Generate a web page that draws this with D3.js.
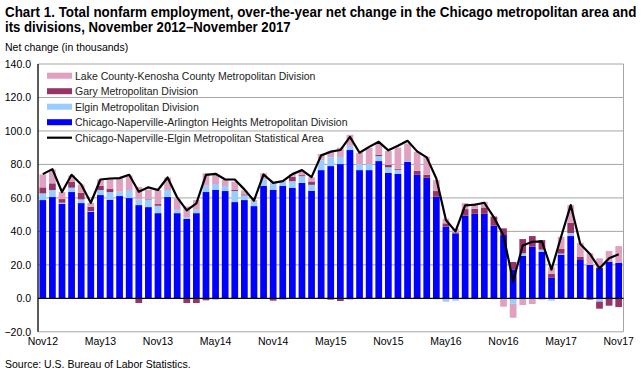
<!DOCTYPE html>
<html><head><meta charset="utf-8">
<script src="https://cdn.jsdelivr.net/npm/d3@7"></script>
<style>body{margin:0;background:#fff}svg{display:block}text{font-family:"Liberation Sans",Arial,sans-serif}</style>
</head><body><svg id="c" width="643" height="375"></svg>
<script>
const months = ["Nov12","Dec12","Jan13","Feb13","Mar13","Apr13","May13","Jun13","Jul13","Aug13","Sep13","Oct13",
"Nov13","Dec13","Jan14","Feb14","Mar14","Apr14","May14","Jun14","Jul14","Aug14","Sep14","Oct14",
"Nov14","Dec14","Jan15","Feb15","Mar15","Apr15","May15","Jun15","Jul15","Aug15","Sep15","Oct15",
"Nov15","Dec15","Jan16","Feb16","Mar16","Apr16","May16","Jun16","Jul16","Aug16","Sep16","Oct16",
"Nov16","Dec16","Jan17","Feb17","Mar17","Apr17","May17","Jun17","Jul17","Aug17","Sep17","Oct17","Nov17"];
const chicagoDiv = [58.7,60.5,56.5,63.5,56.9,51.7,61.7,58.9,61.1,59.9,55.7,54.5,
50.9,60.5,50.9,47.4,50.9,63.5,64.9,64.1,57.5,58.7,55.1,67.1,
64.9,67.1,65.9,68.9,64.3,76.6,79.0,80.2,88.6,76.6,76.6,82.0,
74.9,74.4,81.6,73.8,72.0,60.7,42.8,38.8,49.4,50.5,50.5,43.4,
37.8,17.3,25.3,30.8,27.7,12.5,26.1,37.2,22.9,19.9,18.1,21.9,21.1];
const elginDiv = [4.0,4.2,0.6,2.6,2.2,0.4,3.0,4.6,2.6,4.8,3.4,4.6,
4.4,4.2,2.0,1.0,2.0,3.8,3.4,3.0,6.6,2.8,2.6,4.0,
3.6,2.6,4.1,4.1,3.5,5.8,5.3,4.2,2.5,3.6,3.6,3.0,
3.4,2.4,0.4,0,0,-0.6,-2.0,-1.4,-0.6,-0.6,0,-0.6,
0,-3.2,1.6,0,1.4,-1.4,0.6,1.8,0,0,-2.0,0,0];
const garyDiv = [3.6,4.0,2.2,3.4,4.0,2.6,2.6,1.8,0,0,-2.8,0.4,
1.0,0,0,-2.8,-2.8,-1.2,-0.6,0,0.6,0.6,0,0,
-1.4,-0.6,2.6,0.6,2.0,0,-0.8,-1.6,-0.6,0,0,0.8,
1.4,0.6,0,2.4,1.8,3.4,2.0,0.6,3.9,3.0,3.8,5.4,
4.0,4.4,8.5,6.4,5.7,2.2,2.8,6.2,2.0,-0.8,-4.2,-4.4,-5.2];
const lakeDiv = [7.7,8.3,4.2,3.9,4.8,2.4,3.7,6.1,7.9,8.7,7.4,5.4,
8.4,7.5,6.8,6.5,5.8,7.4,5.6,3.6,5.0,2.4,1.0,3.6,
0.8,0.4,1.5,2.4,2.5,3.8,3.8,5.6,6.6,6.8,9.8,6.7,
8.3,12.7,10.5,11.4,10.8,6.5,2.8,2.2,3.6,3.4,3.4,0.4,
-5.0,-8.4,-4.0,-3.4,-0.8,3.8,7.3,10.5,8.3,7.0,5.8,6.4,10.1];
const msaTotal = [74.2,77.2,63.5,73.8,68.0,57.1,71.0,71.6,71.8,73.8,63.7,66.3,
64.7,72.2,60.3,52.5,56.7,73.8,74.4,71.0,71.0,65.1,58.3,74.0,
69.0,70.0,74.2,76.6,72.4,85.4,87.6,88.6,96.5,87.0,90.5,93.5,
88.4,91.1,94.1,87.8,84.2,71.6,46.8,40.0,55.5,55.9,57.1,48.4,
37.5,10.0,31.6,33.8,34.0,17.2,36.8,55.7,32.4,26.5,17.9,23.9,26.3];
const yTicks = [-20,0,20,40,60,80,100,120,140];
const xLabels = ["Nov12","May13","Nov13","May14","Nov14","May15","Nov15","May16","Nov16","May17","Nov17"];
const seriesKeys = ["chicago","elgin","gary","lake"];
const seriesNames = {lake:"Lake County-Kenosha County Metropolitan Division",gary:"Gary Metropolitan Division",
 elgin:"Elgin Metropolitan Division",chicago:"Chicago-Naperville-Arlington Heights Metropolitan Division"};
const colors = {chicago:"#0000FF",elgin:"#99CCFF",gary:"#993366",lake:"#E0A0C0"};

const rows = months.map((m,i)=>({month:m,chicago:chicagoDiv[i],elgin:elginDiv[i],gary:garyDiv[i],lake:lakeDiv[i],total:msaTotal[i]}));
const svg = d3.select("#c");
const L=38,R=623.5,T=64,B=331.8;
const x = d3.scaleBand().domain(months).range([L,R]).paddingInner(0.3).paddingOuter(0.15);
const y = d3.scaleLinear().domain([-20,140]).range([B,T]);

// title (horizontally condensed to match the narrow bold face)
function title(txt, ty, width){
  const g = svg.append("g");
  const t = g.append("text").attr("x",0).attr("y",0).attr("font-size",15).attr("font-weight","bold").text(txt);
  const w = t.node().getComputedTextLength();
  g.attr("transform",`translate(5,${ty}) scale(${width/w},1)`);
}
title("Chart 1. Total nonfarm employment, over-the-year net change in the Chicago metropolitan area and",16.5,632);
title("its divisions, November 2012\u2013November 2017",32,286);
svg.append("text").attr("x",5).attr("y",51).attr("font-size",10.5).text("Net change (in thousands)");

// grid
svg.append("g").selectAll("line").data(yTicks.filter(d=>d!==0)).join("line")
 .attr("x1",L).attr("x2",R).attr("y1",d=>y(d)).attr("y2",d=>y(d)).attr("stroke","#a6a6a6").attr("stroke-width",1);
svg.append("line").attr("x1",R).attr("x2",R).attr("y1",T).attr("y2",B).attr("stroke","#a6a6a6");

// y axis
const ya = svg.append("g").attr("transform",`translate(${L},0)`).call(d3.axisLeft(y).tickValues(yTicks).tickFormat(d3.format(".1f")).tickSize(0).tickPadding(7));
ya.select(".domain").remove();
ya.selectAll("text").attr("font-size",10.5).attr("font-family","'Liberation Sans',Arial").attr("fill","#000");

// stacked bars
const stack = d3.stack().keys(seriesKeys).offset(d3.stackOffsetDiverging);
const layers = stack(rows);
svg.append("g").selectAll("g").data(layers).join("g").attr("fill",d=>colors[d.key])
 .selectAll("rect").data(d=>d).join("rect")
 .attr("x",d=>x(d.data.month)).attr("width",x.bandwidth())
 .attr("y",d=>y(Math.max(d[0],d[1]))).attr("height",d=>Math.abs(y(d[0])-y(d[1])));

// zero line and left axis line
svg.append("line").attr("x1",L).attr("x2",R).attr("y1",y(0)).attr("y2",y(0)).attr("stroke","#000").attr("stroke-width",1.3);
svg.append("line").attr("x1",L).attr("x2",L).attr("y1",T).attr("y2",B).attr("stroke","#000").attr("stroke-width",1.3);

// total line
const line = d3.line().x(d=>x(d.month)+x.bandwidth()/2).y(d=>y(d.total));
svg.append("path").datum(rows).attr("d",line).attr("fill","none").attr("stroke","#000").attr("stroke-width",2.2).attr("stroke-linejoin","round");

// x labels
const xa = svg.append("g").attr("transform",`translate(0,${B})`).call(d3.axisBottom(x).tickValues(xLabels).tickSize(0).tickPadding(6));
xa.select(".domain").remove();
xa.selectAll("text").attr("font-size",10.5).attr("font-family","'Liberation Sans',Arial").attr("fill","#000");

// legend
const legendItems = ["lake","gary","elgin","chicago"];
const lg = svg.append("g");
legendItems.forEach((k,i)=>{
  const cy = 75.7 + i*15.5;
  lg.append("rect").attr("x",47).attr("y",cy-3).attr("width",25).attr("height",6).attr("fill",colors[k]);
  lg.append("text").attr("x",75).attr("y",cy+3.8).attr("font-size",10.5).attr("fill","#222").text(seriesNames[k]);
});
const ly = 75.7+4*15.5;
lg.append("line").attr("x1",47).attr("x2",72).attr("y1",ly).attr("y2",ly).attr("stroke","#000").attr("stroke-width",2.2);
lg.append("text").attr("x",75).attr("y",ly+3.8).attr("font-size",10.5).attr("fill","#222").text("Chicago-Naperville-Elgin Metropolitan Statistical Area");

svg.append("text").attr("x",5).attr("y",368).attr("font-size",10.5).text("Source: U.S. Bureau of Labor Statistics.");
</script></body></html>
